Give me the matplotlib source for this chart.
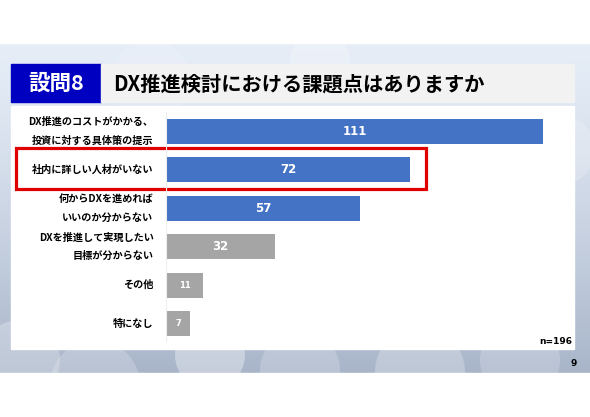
import matplotlib.pyplot as plt
import matplotlib.patches as mpatches
import numpy as np

plt.rcParams['font.family'] = ['Noto Sans CJK JP', 'DejaVu Sans']

# データ
labels = ['DX推進のコストがかかる、\n投資に対する具体策の提示',
          '社内に詳しい人材がいない',
          '何からDXを進めれば\nいいのか分からない',
          'DXを推進して実現したい\n目標が分からない',
          'その他',
          '特になし']
counts = [111, 72, 57, 32, 11, 7]
bar_colors = ['#4472C4', '#4472C4', '#4472C4', '#A5A5A5', '#A5A5A5', '#A5A5A5']
title_num = '設問8'
title_text = 'DX推進検討における課題点はありますか'
n_text = 'n=196'
page_no = '9'

W, H = 590, 417
fig = plt.figure(figsize=(W / 100, H / 100), dpi=100)

# 背景 (ピクセル座標)
bg = fig.add_axes([0, 0, 1, 1])
bg.set_xlim(0, W)
bg.set_ylim(H, 0)
bg.axis('off')

top, bottom = 43, 373
grad = np.linspace(0, 1, 200)[:, None]
c1 = np.array([0.90, 0.93, 0.97])
c2 = np.array([0.66, 0.71, 0.79])
img = c1 + (c2 - c1) * grad[:, :, None] ** 1.3
img = np.repeat(img, 2, axis=1)
bg.imshow(img, extent=(0, W, bottom, top), aspect='auto', zorder=0)

# ぼかしの円
for cx, cy, r, a in [(20, 360, 40, 0.25), (95, 385, 45, 0.2), (210, 355, 35, 0.35),
                     (300, 370, 40, 0.2), (420, 372, 45, 0.25), (520, 360, 40, 0.2),
                     (320, 60, 30, 0.25), (560, 150, 35, 0.2), (150, 80, 40, 0.15)]:
    bg.add_patch(mpatches.Circle((cx, cy), r, color='white', alpha=a, lw=0, zorder=1))
bg.add_patch(mpatches.Rectangle((0, bottom), W, H - bottom, color='white', zorder=2))
bg.add_patch(mpatches.Rectangle((0, 0), W, top, color='white', zorder=2))

# タイトルバー
bg.add_patch(mpatches.Rectangle((11, 64), 90, 38, color='#0000C0', zorder=3))
bg.add_patch(mpatches.Rectangle((101, 64), 473, 38, color='#F2F2F2', zorder=3))
bg.text(56, 83.5, title_num, color='white', fontsize=15.5, fontweight='bold',
        ha='center', va='center', zorder=4)
bg.text(113, 83.5, title_text, color='black', fontsize=14.6, fontweight='bold',
        ha='left', va='center', zorder=4)

# 白パネル
bg.add_patch(mpatches.Rectangle((11, 106), 563, 243, color='white', zorder=3))

# 赤枠
bg.add_patch(mpatches.Rectangle((16, 148), 410, 41, fill=False, edgecolor='#E00000',
                                lw=2.3, zorder=6))

bg.text(572, 341, n_text, fontsize=6.5, fontweight='bold', ha='right', va='center',
        family='DejaVu Sans', zorder=5)
bg.text(577, 364, page_no, fontsize=6.5, fontweight='bold', ha='right', va='center',
        family='DejaVu Sans', zorder=5)

# 棒グラフ
x0 = 166
px_per = 3.395
ax_top, ax_bot = 112, 343
ax = fig.add_axes([x0 / W, 1 - ax_bot / H, (574 - x0) / W, (ax_bot - ax_top) / H])
ax.set_zorder(5)
ax.patch.set_alpha(0)
ax.set_xlim(0, (574 - x0) / px_per)
y = np.arange(len(counts))
ax.set_ylim(len(counts) - 0.5, -0.5)
ax.barh(y, counts, height=0.65, color=bar_colors)
for i, v in enumerate(counts):
    ax.text(v / 2, i, str(v), color='white', fontweight='bold', ha='center', va='center',
            fontsize=8.5 if v > 20 else 6, family='DejaVu Sans')
ax.set_yticks(y)
ax.set_yticklabels(labels, fontsize=7.3, fontweight='bold', linespacing=2.05, va='center')
ax.tick_params(axis='y', length=0, pad=9)
ax.set_xticks([])
for s in ax.spines.values():
    s.set_visible(False)
ax.axvline(0, color='#EEEEEE', lw=0.8)

fig.savefig('out.png', dpi=100)
